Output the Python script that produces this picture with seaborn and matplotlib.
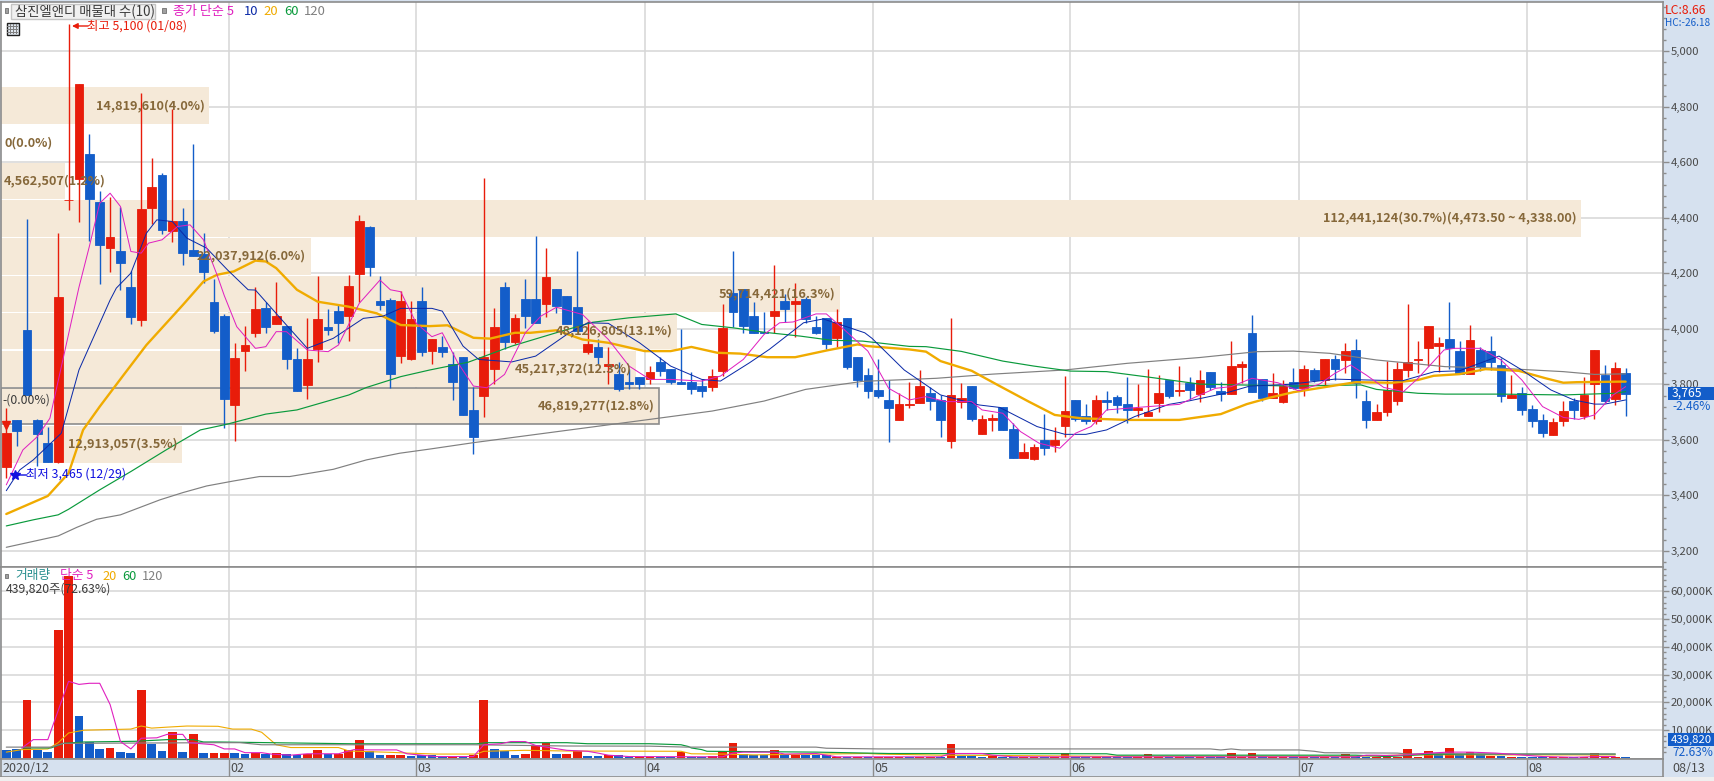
import pandas as pd
import seaborn as sns
import matplotlib.pyplot as plt
from matplotlib.patches import Rectangle

W, H = 1715, 781

# candles: open, close, high, low (red when close >= open)
opens = [3504,3672,3996,3672,3589,3520,4464,4540,4630,4458,4292,4281,4150,4032,4436,4555,4353,4389,4285,4270,
         4096,4046,3726,3920,3985,4075,4017,4010,3891,3798,3927,4006,4064,4046,4198,4368,4100,4104,3902,3891,
         4100,3922,3936,3875,3897,3706,3760,3857,4152,3954,4106,4106,4088,4142,4120,4080,3915,3933,3865,3836,
         3807,3828,3818,3882,3854,3810,3810,3796,3792,3850,4131,4145,4048,3990,4048,4102,4088,4106,4008,4041,
         3969,4041,3898,3834,3780,3744,3672,3726,3733,3769,3744,3596,3736,3794,3621,3672,3718,3639,3535,3531,
         3600,3582,3650,3744,3686,3668,3744,3754,3729,3708,3686,3733,3816,3776,3805,3765,3844,3776,3765,3862,
         3985,3819,3751,3736,3808,3787,3852,3816,3891,3888,3924,3740,3672,3700,3740,3852,3888,3931,3938,3963,
         3920,3837,3924,3920,3870,3751,3769,3711,3672,3618,3668,3740,3686,3801,3834,3747,3841]
closes = [3626,3633,3762,3621,3520,4114,4464,4882,4468,4303,4332,4238,4044,4432,4512,4357,4389,4274,4263,4206,
          3992,3747,3895,3942,4071,4006,4046,3891,3776,3891,4035,3996,4021,4154,4389,4224,4086,3837,4100,4035,
          3916,3962,3915,3807,3688,3609,3897,4008,3954,4041,4048,4023,4188,4084,4019,3994,3944,3897,3872,3782,
          3800,3800,3843,3850,3807,3803,3782,3778,3832,4005,4062,4012,3987,3987,4066,4070,4102,4034,3987,3947,
          4026,3864,3816,3776,3758,3715,3729,3729,3794,3740,3672,3762,3751,3675,3675,3679,3636,3535,3556,3574,
          3571,3600,3704,3675,3668,3744,3736,3726,3708,3715,3700,3769,3758,3780,3780,3816,3790,3765,3866,3873,
          3772,3751,3769,3794,3787,3855,3816,3891,3855,3920,3805,3672,3700,3780,3855,3880,3891,4010,3949,3931,
          3837,3960,3862,3880,3758,3762,3708,3668,3625,3665,3704,3708,3762,3924,3740,3859,3765]
highs = [3715,3672,4396,3675,3648,4346,5100,4882,4702,4497,4477,4441,4207,4849,4616,4562,4791,4436,4666,4346,
         4180,4053,3949,4010,4150,4096,4168,4010,3931,4039,4191,4071,4086,4195,4411,4371,4191,4111,4136,4100,
         4150,3962,3974,3918,3897,3792,4545,4077,4170,4052,4181,4336,4293,4145,4120,4282,4030,3962,3936,3882,
         3854,3828,3868,3897,3854,4001,3846,3818,3857,4088,4282,4145,4098,4062,4232,4127,4167,4116,4048,4041,
         4073,4041,3900,3859,3891,3816,3769,3808,3852,3790,3762,4039,3805,3794,3690,3693,3718,3661,3589,3585,
         3693,3646,3830,3744,3729,3762,3776,3762,3826,3801,3855,3834,3816,3866,3826,3852,3844,3808,3956,3884,
         4050,3819,3841,3816,3859,3870,3859,3891,3906,3949,3963,3780,3729,3884,3880,4089,3956,4010,3970,4096,
         3956,4014,3934,3974,3895,3834,3790,3726,3693,3679,3740,3751,3826,3924,3870,3880,3859]
lows = [3464,3579,3762,3507,3520,3516,4429,4387,4315,4162,4206,4140,4018,4011,4378,4342,4314,4231,4263,4165,
        3986,3643,3596,3848,3970,3985,4017,3855,3776,3747,3880,3978,3948,3956,4096,4189,4068,3787,3877,3888,
        3902,3872,3897,3742,3688,3548,3684,3803,3929,3947,4005,4023,4044,4059,4019,3994,3908,3875,3803,3778,
        3782,3782,3800,3832,3800,3803,3767,3753,3778,3832,4008,3987,3987,3987,3987,4026,3972,4023,3980,3929,
        3933,3857,3789,3751,3751,3592,3672,3715,3733,3708,3610,3571,3715,3668,3621,3632,3636,3535,3535,3528,
        3546,3556,3610,3668,3657,3657,3708,3697,3661,3682,3686,3700,3751,3758,3747,3736,3780,3740,3765,3805,
        3772,3740,3751,3733,3783,3758,3808,3794,3816,3841,3751,3643,3672,3686,3726,3826,3841,3866,3844,3855,
        3837,3837,3848,3852,3736,3751,3690,3646,3610,3618,3650,3675,3675,3675,3733,3726,3686]

# moving averages, knots
ma5_x = [0,1.6,3,4.2,7,8,9,10,11,12,13,13.7,15,16.5,17.7,19,20.3,21,22.2,24,25,26,27,29,31,32,34,36,37,38,39.5,41,42,43.5,45,46.3,48,50,51.5,53,55.5,58,60,62,64,67,68.8,71,73,74.5,75.8,78,79,80.7,83,85,87,88.6,90.5,93,94,96,97.7,99.5,101.5,103,104.5,106,108,110,113,115,116.5,118,120,122.5,124.5,126.5,128,129.5,131,132.7,134.6,136,138.5,139.5,142,144,146,148,150,151.5,153,154.8,156]
ma5_y = [3438,3564,3612,3678,4150,4297,4453,4489,4441,4279,4273,4309,4321,4369,4375,4321,4195,4120,4008,3930,3936,3990,3990,3924,3918,3942,4092,4176,4141,4134,4020,3972,3986,3878,3794,3788,3836,3986,4046,4078,4052,3962,3866,3818,3818,3812,3830,3890,3980,4022,4025,4054,4054,3998,3920,3786,3744,3756,3738,3738,3708,3696,3630,3588,3570,3624,3648,3708,3714,3720,3728,3762,3786,3792,3822,3806,3777,3801,3840,3870,3834,3789,3774,3822,3924,3930,3930,3888,3816,3720,3681,3674,3690,3762,3792]
ma10_x = [0,1.3,2.6,5.3,7,10,10.6,12,13.5,14.5,16,17.4,19.3,21.3,23.3,24,26.7,29,31.5,34.4,36.3,38,41,42,44,45.5,48.7,51,54,56,58,61,64,67,68.8,71.6,73.5,76.8,78.7,82.7,83.4,86.5,90,93.7,95.7,99.3,102,104,106,108.7,112,114,117.4,119.8,123.5,128,131,134.5,137.6,140,143.8,146,148.8,151,153,154,156]
ma10_y = [3417,3492,3528,3624,3852,4104,4147,4201,4345,4393,4387,4327,4291,4213,4141,4140,4026,3930,3966,4038,4046,4074,4074,4064,3938,3890,3881,3902,3980,4022,4020,3950,3866,3818,3812,3878,3926,4022,4036,3986,3966,3852,3762,3726,3717,3648,3620,3620,3636,3684,3728,3741,3768,3794,3800,3819,3816,3813,3846,3849,3902,3852,3780,3744,3729,3729,3744]
ma20_x = [0,4,6,7.4,9,11.3,13.5,17,19,20.3,21.9,24,25,26,28,30,33,35.7,38,40.8,42.5,45,46.6,49,50.5,53,55.5,58,61.5,64,66,68.5,70.7,73.3,76,79,82,83,87,88.6,90,93,95.7,98.5,101,103.5,108,113,117,119.5,121.7,124,128,130,133.5,136,137.5,140,142.5,145.7,148.3,150,151.3,155.5,156]
ma20_y = [3333,3398,3480,3636,3720,3834,3942,4086,4171,4195,4207,4246,4243,4219,4141,4098,4080,4056,4014,4010,4013,3968,3965,3986,3986,3995,3962,3950,3920,3920,3935,3914,3911,3898,3898,3922,3944,3938,3926,3918,3884,3849,3794,3738,3690,3678,3672,3672,3693,3729,3752,3772,3796,3808,3806,3816,3831,3837,3855,3849,3822,3806,3808,3810,3810]
ma60_x = [0,2.6,5,6,9,12,15.4,18.7,21.2,25,28,33,34.7,38,40.8,44.5,48.7,53.5,56.5,60,64.5,67,70,73,76.5,79.5,82.5,87,88.6,92,96,99,102.5,106,110.5,115,124,130.5,132,136,138.6,144,150,155,156]
ma60_y = [3290,3312,3330,3350,3420,3486,3564,3636,3656,3693,3708,3762,3789,3828,3852,3880,3938,3992,4024,4040,4054,4016,4004,3988,3974,3959,3956,3937,3936,3919,3884,3866,3848,3846,3824,3801,3794,3798,3782,3768,3765,3765,3762,3768,3774]
ma120_x = [0,5,6.8,8.7,11,14.8,17,19.3,21.9,24.4,27.3,31.5,34.7,37.9,40.8,45,53.5,62,68,73,77,82.5,89.6,95,102,108,115,120.5,124,127.5,132,138.6,144,150,153,156]
ma120_y = [3213,3254,3285,3314,3330,3384,3410,3434,3452,3468,3468,3494,3528,3552,3567,3590,3632,3674,3704,3740,3782,3811,3822,3837,3852,3876,3897,3918,3920,3912,3888,3864,3858,3846,3836,3838]

# volume (K shares) and its colour
vols = [3000,3250,21000,3000,2250,46100,65500,15000,5750,3400,3750,2250,1900,24400,4900,2600,9250,2250,8600,1900,
        1900,1900,1900,1500,1750,1250,1900,1250,1000,1500,3000,1250,1500,3000,6400,2500,1100,1100,1100,750,
        1000,1000,500,500,500,1100,21000,3400,2400,1100,1500,4600,5400,1500,1500,2375,750,750,1000,1000,
        500,500,500,500,500,2000,500,500,750,2400,5250,1250,900,900,3000,900,900,900,900,900,
        500,500,500,500,500,400,400,400,400,400,400,4900,750,750,300,800,300,300,300,300,
        300,300,1875,300,300,300,300,300,300,300,1500,300,300,300,300,300,300,300,1875,300,
        1875,750,300,300,300,300,300,300,300,1500,750,500,300,300,500,3400,500,2600,1000,3750,
        1000,2100,1000,800,700,500,500,500,500,400,400,300,300,1875,500,500,440]
vol_cols = list("bbrbbrrbbbrbbrbbrbrb" "rrbbrbrbbrrbrrrbbrrb" "bbbrbrrbbbrrrbrrbbrb"
                "brrbbrbbrrrbbbrbrbbb" "rbrbrrrbrrbrbbbrbbrr" "brrbbrbbbrrrbrbrbbrr"
                "rbrrbrbrbrbbrrrrrrbr" "brbrbrbbbrrbrrrrb")

vma5_x = [1.5,2.6,4,6,7,8,9,10,11,12,13,14.5,15.5,17,17.6,20,21,22,23,24.6,25.5,27.4,29,32,33.5,35,37.6,38.6,41.4,45,46,47.6,48.6,50,51,54,56,57,58,60,69,70,71,72,74,75,78,80,85,90,91,94,95,97,106,130,131,132,133,135,137,139,141,143.5,148,151,153.5,155]
vma5_y = [3600,6600,6600,27600,26500,26900,26900,19250,5900,3250,7100,7250,8500,8500,5500,4750,3250,3250,1900,1900,1400,1000,1500,1500,3000,2900,2900,1500,500,500,4750,5100,5900,5900,4500,2750,2400,1750,1000,500,400,1750,2100,2100,2100,1400,1600,400,400,400,1600,1600,1000,400,400,400,1000,1000,900,1100,1750,2100,2100,1750,500,250,500,500]
vma20_x = [0,1.5,4,5,6,7.5,12,13,14,15.5,17.4,20.4,21.8,23.6,24.6,26,27.4,32,33,37.2,38.6,41.4,45.3,46,50,54,65,66,69,72,83,84,90,95,106,130,135,155]
vma20_y = [2100,3000,3250,5500,9000,10000,10400,11500,10750,11100,11500,11400,10400,10400,9250,4750,3750,3750,2500,2000,1750,1400,1400,2400,2750,2500,2400,1500,1400,1100,1600,1400,1000,900,600,600,1100,1100]
vma60_x = [1.5,4.3,5.5,7.5,12.4,15.5,18,19,20.4,33.5,45.3,46.3,54,56,62,65,65.7,66,67,67.5,73,78,85,106,107,130,133,137,145,155]
vma60_y = [3600,3600,5250,5750,6000,6600,6600,5750,5750,5100,5100,5500,5500,5125,5125,4750,4125,3600,3000,2400,2250,2100,1600,1500,1000,1000,500,1300,1400,1400]
vma120_x = [0,4.3,5.5,20.4,22.5,24.6,45,54,62,65.5,78,79,84,114,116,117,118,119,124.5,126,127,134,135,137,145,155]
vma120_y = [3900,3900,5250,5500,5500,4750,4750,4300,4250,3900,3900,3500,3250,3250,3250,2875,3250,2875,2875,2400,1875,1750,1400,1600,1400,1400]

# volume-by-price table
band_vol = [14819610,0,4562507,112441124,22037912,59714421,48126805,45217372,46819277,12913057]
band_hi = [4870,4738,4599,4465,4329,4192,4059,3922,3787,3651]
band_lo = [4738,4600,4467,4332,4194,4062,3926,3789,3656,3518]
band_txt = ["14,819,610(4.0%)","0(0.0%)","4,562,507(1.2%)","112,441,124(30.7%)(4,473.50 ~ 4,338.00)",
            "22,037,912(6.0%)","59,714,421(16.3%)","48,126,805(13.1%)","45,217,372(12.3%)","46,819,277(12.8%)","12,913,057(3.5%)"]

price_ticks = [3200,3400,3600,3800,4000,4200,4400,4600,4800,5000]
vol_ticks = [10000,20000,30000,40000,50000,60000]
month_pos = [21.5,39.5,61.5,83.5,102.5,124.5,146.5]
month_lab = ["02","03","04","05","06","07","08"]

RED, BLUE = "#e81c0a", "#135dc9"
MAG, NAVY, ORG, GRN, GRY = "#e020c0", "#0b2aa8", "#f0ab00", "#0a9a3c", "#808080"
BAND, BROWN, GRID, STRIP, EDGE, TXT = "#f5e9d8", "#86683a", "#d6d6d6", "#d6e1ef", "#8c8c8c", "#4a4a4a"

sns.set_theme(style="white")
plt.rcParams['font.family'] = ['Noto Sans CJK KR', 'DejaVu Sans']
plt.rcParams['font.size'] = 8.2

fig = plt.figure(figsize=(W / 100, H / 100), dpi=100, facecolor=STRIP)

def box(x0, y0, x1, y1):
    return [x0 / W, 1 - y1 / H, (x1 - x0) / W, (y1 - y0) / H]

ax = fig.add_axes(box(1, 2, 1663, 567))
axv = fig.add_axes(box(1, 567, 1663, 759))
axd = fig.add_axes(box(1, 759, 1663, 777), facecolor=STRIP)

x0, x1 = -0.51, 159.6
df = pd.DataFrame({"i": range(157), "o": opens, "c": closes, "h": highs, "l": lows})
df["up"] = df["c"] >= df["o"]
df["color"] = df["up"].map({True: RED, False: BLUE})

# price pane
for a in (ax, axv):
    a.set_xlim(x0, x1)
    a.set_axisbelow(True)
    a.grid(True, axis="y", color=GRID, lw=1.1)
    a.vlines(month_pos, 0, 1, transform=a.get_xaxis_transform(), color=GRID, lw=1.1, zorder=0.6)
ax.set_ylim(3142, 5178)

for v, hi, lo, t in zip(band_vol, band_hi, band_lo, band_txt):
    right = x0 + v / band_vol[3] * 152.2
    current = lo <= 3766 <= hi
    if v > 0:
        ax.barh((hi + lo) / 2, right - x0, height=hi - lo, left=x0, color=BAND,
                edgecolor=EDGE if current else "none", lw=1.2 if current else 0, zorder=1)
    mid = (hi + lo) / 2
    if v < 5000000:
        ax.text(x0 + 0.3, mid, t, color=BROWN, fontsize=9.2, weight="bold", va="center", ha="left", zorder=8)
    else:
        ax.text(right - 0.45, mid, t, color=BROWN, fontsize=9.2, weight="bold", va="center", ha="right", zorder=8)

ax.vlines(df["i"], df["l"], df["h"], colors=df["color"], lw=1.0, zorder=3)
ax.bar(df["i"], (df["c"] - df["o"]).abs(), bottom=df[["o", "c"]].min(axis=1), width=0.84,
       color=df["color"], edgecolor=df["color"], lw=0.6, zorder=3)

sns.lineplot(x=ma120_x, y=ma120_y, color=GRY, lw=0.85, ax=ax, zorder=4)
sns.lineplot(x=ma60_x, y=ma60_y, color=GRN, lw=0.85, ax=ax, zorder=4)
sns.lineplot(x=ma20_x, y=ma20_y, color=ORG, lw=1.7, ax=ax, zorder=5)
sns.lineplot(x=ma10_x, y=ma10_y, color=NAVY, lw=0.72, ax=ax, zorder=6)
sns.lineplot(x=ma5_x, y=ma5_y, color=MAG, lw=0.72, ax=ax, zorder=7)

ax.yaxis.tick_right()
ax.set_yticks(price_ticks)
ax.set_yticklabels([f"{p:,}" for p in price_ticks])
ax.set_yticks(range(3160, 5161, 40), minor=True)
ax.tick_params(axis="y", which="major", length=4, width=1, color=EDGE, labelcolor=TXT, labelsize=8.2, pad=1.5, right=True)
ax.tick_params(axis="y", which="minor", length=2, width=1, color=EDGE, right=True)
ax.set_xticks([])
ax.set_ylabel("")

# volume pane
vdf = pd.DataFrame({"i": range(157), "v": vols, "col": vol_cols})
sns.barplot(data=vdf, x="i", y="v", hue="col", palette={"r": RED, "b": BLUE}, native_scale=True,
            dodge=False, width=0.84, legend=False, ax=axv, zorder=3, linewidth=0, saturation=1)
sns.lineplot(x=vma20_x, y=vma20_y, color=ORG, lw=0.8, ax=axv, zorder=4)
sns.lineplot(x=vma60_x, y=vma60_y, color=GRN, lw=0.85, ax=axv, zorder=5)
sns.lineplot(x=vma120_x, y=vma120_y, color=GRY, lw=0.85, ax=axv, zorder=6)
sns.lineplot(x=vma5_x, y=vma5_y, color=MAG, lw=0.8, ax=axv, zorder=7)
axv.set_xlim(x0, x1)
axv.set_ylim(-380, 68800)
axv.yaxis.tick_right()
axv.set_yticks(vol_ticks)
axv.set_yticklabels([f"{v:,}K" for v in vol_ticks])
axv.set_yticks(range(2000, 68001, 2000), minor=True)
axv.tick_params(axis="y", which="major", length=4, width=1, color=EDGE, labelcolor=TXT, labelsize=8.2, pad=1.5, right=True)
axv.tick_params(axis="y", which="minor", length=2, width=1, color=EDGE, right=True)
axv.set_xticks([])
axv.set_xlabel("")
axv.set_ylabel("")

# date strip
axd.set_xlim(x0, x1)
axd.set_ylim(0, 1)
axd.set_xticks([])
axd.set_yticks([])
axd.vlines(month_pos, 0, 1, color=EDGE, lw=1.0)
for p, m in zip(month_pos, month_lab):
    axd.text(p + 0.12, 0.45, m, color=TXT, fontsize=9, va="center", ha="left")
axd.text(x0 + 0.1, 0.45, "2020/12", color=TXT, fontsize=9, va="center", ha="left")

for a in (ax, axv, axd):
    for s in a.spines.values():
        s.set_color(EDGE)
        s.set_linewidth(1.2)

# pixel placed text
def label(x, y, s, color=TXT, size=8.4, **kw):
    fig.text(x / W, 1 - y / H, s, color=color, fontsize=size, va="center", ha=kw.pop("ha", "left"), zorder=20, **kw)

def rect(x, y, w, h, **kw):
    fig.add_artist(Rectangle((x / W, 1 - (y + h) / H), w / W, h / H, transform=fig.transFigure, zorder=15, **kw))

rect(0, 777, W, 4, fc="#efefef", ec="none")
rect(4.5, 8.5, 4, 4, fc="#a0a0a0", ec="#707070", lw=0.6)
rect(11, 4, 144, 15, fc="#f0f0f0", ec="#c4c4c4", lw=1)
label(15, 11.5, "삼진엘앤디 매물대 수(10)", "#3a3a3a", 9.6)
rect(162, 8.5, 4, 4, fc="#a0a0a0", ec="#707070", lw=0.6)
label(173, 11.5, "종가 단순 5", MAG, 9.4)
label(244, 11.5, "10", NAVY, 9.4)
label(263, 11.5, "20", ORG, 9.4)
label(284, 11.5, "60", GRN, 9.4)
label(304, 11.5, "120", GRY, 9.4)
rect(7, 23, 12, 12, fc="#dfe6ee", ec="#202020", lw=1)
for gx in (10, 13, 16):
    rect(gx, 24, 0.6, 10, fc="#808080", ec="none")
for gy in (26, 29, 32):
    rect(7.5, gy, 11, 0.6, fc="#808080", ec="none")

label(87, 26, "최고 5,100 (01/08)", RED, 8.9)
ax.annotate("", xy=(72, H - 26), xytext=(88, H - 26), xycoords="figure pixels", textcoords="figure pixels",
            arrowprops=dict(arrowstyle="-|>", color=RED, lw=1, shrinkA=0, shrinkB=0), zorder=20)
label(26, 474, "최저 3,465 (12/29)", "#1010e0", 8.9)
ax.annotate("", xy=(11, H - 475), xytext=(27, H - 475), xycoords="figure pixels", textcoords="figure pixels",
            arrowprops=dict(arrowstyle="-|>", color="#1010e0", lw=1, shrinkA=0, shrinkB=0), zorder=20)
label(2, 400, "-(0.00%)", "#3a3a3a", 8.8)
ax.plot([0], [3654], marker="v", ms=6, color=RED, zorder=9)
ax.plot([0.85], [3474], marker="*", ms=7, color="#1010e0", zorder=9)

rect(4.5, 574, 4, 4, fc="#a0a0a0", ec="#707070", lw=0.6)
label(15, 576, "거래량", "#2a9090", 9.2)
label(60, 576, "단순 5", MAG, 9.2)
label(102, 576, "20", ORG, 9.2)
label(122, 576, "60", GRN, 9.2)
label(142, 576, "120", GRY, 9.2)
label(6, 589.5, "439,820주(72.63%)", "#3a3a3a", 8.8)

# right strip
label(1665, 10, "LC:8.66", RED, 8.8)
label(1665, 23, "HC:-26.18", BLUE, 7.2)
rect(1668, 387, 47, 13, fc=BLUE, ec="none")
label(1672, 393.5, "3,765", "white", 8.8)
label(1672, 406, "-2.46%", BLUE, 8.6)
rect(1668, 733, 47, 13, fc=BLUE, ec="none")
label(1671, 739.5, "439,820", "white", 8.2)
label(1672, 752, "72.63%", BLUE, 8.6)
label(1672, 768, "08/13", TXT, 9)

fig.savefig("out.png", dpi=100, facecolor=fig.get_facecolor())
